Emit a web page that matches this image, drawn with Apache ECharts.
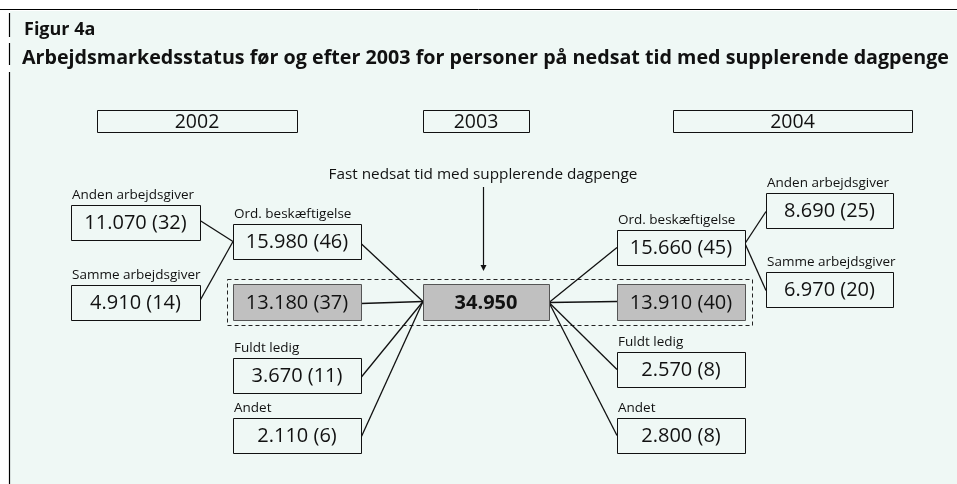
<!DOCTYPE html>
<html>
<head>
<meta charset="utf-8">
<script src="https://cdn.jsdelivr.net/npm/echarts@6/dist/echarts.min.js"></script>
<style>
  html, body { margin: 0; padding: 0; background: #fff; }
  #chart { width: 957px; height: 484px; }
</style>
</head>
<body>
<div id="chart"></div>
<script>
// --- data ---
const figureLabel = "Figur 4a";
const figureTitle = "Arbejdsmarkedsstatus før og efter 2003 for personer på nedsat tid med supplerende dagpenge";
const years = ["2002", "2003", "2004"];
const centerCaption = "Fast nedsat tid med supplerende dagpenge";
const centerValue = 34950;

const statusLabels = ["Ord. beskæftigelse", "", "Fuldt ledig", "Andet"];
const before2002 = [15980, 13180, 3670, 2110];
const beforeShare = [46, 37, 11, 6];
const after2004 = [15660, 13910, 2570, 2800];
const afterShare = [45, 40, 8, 8];

const employerLabels = ["Anden arbejdsgiver", "Samme arbejdsgiver"];
const beforeEmployer = [11070, 4910];
const beforeEmployerShare = [32, 14];
const afterEmployer = [8690, 6970];
const afterEmployerShare = [25, 20];

// --- layout (axis units match the canvas pixels) ---
const colLeft = { subL: 71, L: 233, C: 423, R: 617, subR: 766 };
const colWidth = { subL: 129, L: 128, C: 126, R: 128, subR: 127 };
const boxH = 35;
const rowsBefore = [224, 284, 358, 418];
const rowsAfter = [230, 284, 352, 418];
const rowsSubBefore = [205, 285];
const rowsSubAfter = [193, 272];
const yearLeft = [97, 423, 673];
const yearWidth = [200, 106, 239];
const yearTop = 110, yearH = 22;

const FONT = '"Open Sans", "Noto Sans", sans-serif';
const BG = "#eff8f5";
const GRAY = "#c0c0c0";

function fmt(v) {
  return String(v).replace(/\B(?=(\d{3})+(?!\d))/g, ".");
}

const boxes = [];
years.forEach((y, i) => {
  boxes.push({ x: yearLeft[i], y: yearTop, w: yearWidth[i], h: yearH, text: y, size: 19.5 });
});
boxes.push({ x: colLeft.C, y: rowsBefore[1], w: colWidth.C, h: boxH + 1,
  text: fmt(centerValue), size: 20, bold: true, fill: GRAY, stroke: "#555" });
before2002.forEach((v, i) => {
  boxes.push({ x: colLeft.L, y: rowsBefore[i], w: colWidth.L, h: i === 1 ? boxH + 1 : boxH,
    text: fmt(v) + " (" + beforeShare[i] + ")", label: statusLabels[i], size: 20,
    fill: i === 1 ? GRAY : null, stroke: i === 1 ? "#555" : "#111" });
});
after2004.forEach((v, i) => {
  boxes.push({ x: colLeft.R, y: rowsAfter[i], w: colWidth.R, h: i === 1 ? boxH + 1 : boxH,
    text: fmt(v) + " (" + afterShare[i] + ")", label: statusLabels[i], size: 20,
    fill: i === 1 ? GRAY : null, stroke: i === 1 ? "#555" : "#111" });
});
beforeEmployer.forEach((v, i) => {
  boxes.push({ x: colLeft.subL, y: rowsSubBefore[i], w: colWidth.subL, h: boxH,
    text: fmt(v) + " (" + beforeEmployerShare[i] + ")", label: employerLabels[i], size: 20 });
});
afterEmployer.forEach((v, i) => {
  boxes.push({ x: colLeft.subR, y: rowsSubAfter[i], w: colWidth.subR, h: boxH,
    text: fmt(v) + " (" + afterEmployerShare[i] + ")", label: employerLabels[i], size: 20 });
});

// connecting lines
const cMidY = rowsBefore[1] + boxH / 2;
const edges = [];
rowsSubBefore.forEach((r) => {
  edges.push([colLeft.subL + colWidth.subL, r + boxH / 2 - 2, colLeft.L, rowsBefore[0] + boxH / 2]);
});
rowsBefore.forEach((r) => {
  edges.push([colLeft.L + colWidth.L, r + boxH / 2 + 2, colLeft.C, cMidY]);
});
rowsAfter.forEach((r) => {
  edges.push([colLeft.C + colWidth.C, cMidY + 1, colLeft.R, r + boxH / 2]);
});
rowsSubAfter.forEach((r) => {
  edges.push([colLeft.R + colWidth.R, rowsAfter[0] + boxH / 2 - 4, colLeft.subR, r + boxH / 2 + 1]);
});

const chart = echarts.init(document.getElementById("chart"));

chart.setOption({
  animation: false,
  backgroundColor: "#fff",
  title: [
    {
      text: figureLabel,
      left: 24,
      top: 21,
      padding: 0,
      textStyle: { fontFamily: FONT, fontWeight: "bold", fontSize: 18, color: "#111" },
    },
    {
      text: figureTitle,
      left: 22,
      top: 48,
      padding: 0,
      textStyle: { fontFamily: FONT, fontWeight: "bold", fontSize: 19.7, color: "#111" },
    },
  ],
  graphic: [
    { type: "rect", z: -10, shape: { x: 10, y: 11, width: 947, height: 473 }, style: { fill: BG } },
    { type: "line", z: -5, shape: { x1: 0, y1: 9.5, x2: 957, y2: 9.5 }, style: { stroke: "#000", lineWidth: 1 } },
    { type: "line", z: -5, shape: { x1: 9.5, y1: 13, x2: 9.5, y2: 37 }, style: { stroke: "#000", lineWidth: 1.2 } },
    { type: "line", z: -5, shape: { x1: 9.5, y1: 43, x2: 9.5, y2: 65 }, style: { stroke: "#000", lineWidth: 1.2 } },
    { type: "line", z: -5, shape: { x1: 9.5, y1: 72, x2: 9.5, y2: 484 }, style: { stroke: "#000", lineWidth: 1.2 } },
  ],
  grid: { left: 0, right: 0, top: 0, bottom: 0 },
  xAxis: { type: "value", min: 0, max: 957, show: false },
  yAxis: { type: "value", min: 0, max: 484, inverse: true, show: false },
  series: [
    {
      // dashed frame, caption and arrow
      type: "custom",
      clip: false,
      data: [[colLeft.C, rowsBefore[1]]],
      z: 1,
      renderItem: function (params, api) {
        const a = api.coord([colLeft.L - 6, rowsBefore[1] - 5]);
        const b = api.coord([colLeft.R + colWidth.R + 7, rowsBefore[1] + boxH + 6]);
        const cx = api.coord([colLeft.C + colWidth.C / 2 - 3, 0])[0];
        const capY = api.coord([0, 175])[1];
        const arrTop = api.coord([0, 187])[1];
        const arrBot = api.coord([0, 271])[1];
        return {
          type: "group",
          children: [
            { type: "rect", shape: { x: a[0] + 0.5, y: a[1] + 0.5, width: b[0] - a[0], height: b[1] - a[1] },
              style: { fill: null, stroke: "#222", lineWidth: 1, lineDash: [4, 3] } },
            { type: "text", style: { text: centerCaption, x: cx, y: capY, align: "center", verticalAlign: "middle",
              font: "15.3px " + FONT, fill: "#111" } },
            { type: "line", shape: { x1: cx + 0.5, y1: arrTop, x2: cx + 0.5, y2: arrBot - 5 },
              style: { stroke: "#111", lineWidth: 1.2 } },
            { type: "polygon", shape: { points: [[cx - 2.5, arrBot - 6], [cx + 3.5, arrBot - 6], [cx + 0.5, arrBot]] },
              style: { fill: "#111" } },
          ],
        };
      },
    },
    {
      type: "custom",
      clip: false,
      z: 2,
      data: edges,
      renderItem: function (params, api) {
        const e = edges[params.dataIndex];
        const p = api.coord([e[0], e[1]]);
        const q = api.coord([e[2], e[3]]);
        return { type: "line", shape: { x1: p[0], y1: p[1], x2: q[0], y2: q[1] },
          style: { stroke: "#111", lineWidth: 1.3 } };
      },
    },
    {
      type: "custom",
      clip: false,
      z: 3,
      data: boxes.map((b) => [b.x, b.y]),
      renderItem: function (params, api) {
        const b = boxes[params.dataIndex];
        const p = api.coord([b.x, b.y]);
        const q = api.coord([b.x + b.w, b.y + b.h]);
        const children = [
          { type: "rect", shape: { x: Math.round(p[0]) + 0.5, y: Math.round(p[1]) + 0.5,
              width: Math.round(q[0] - p[0]), height: Math.round(q[1] - p[1]) },
            style: { fill: b.fill || BG, stroke: b.stroke || "#111", lineWidth: 1 } },
          { type: "text", style: { text: b.text, x: (p[0] + q[0]) / 2, y: (p[1] + q[1]) / 2 + 1,
              align: "center", verticalAlign: "middle",
              font: (b.bold ? "bold " : "") + b.size + "px " + FONT, fill: "#111" } },
        ];
        if (b.label) {
          children.push({ type: "text", style: { text: b.label, x: p[0] + 1, y: p[1] - 3,
            align: "left", verticalAlign: "bottom", font: "13.5px " + FONT, fill: "#111" } });
        }
        return { type: "group", children: children };
      },
    },
  ],
});
</script>
</body>
</html>
